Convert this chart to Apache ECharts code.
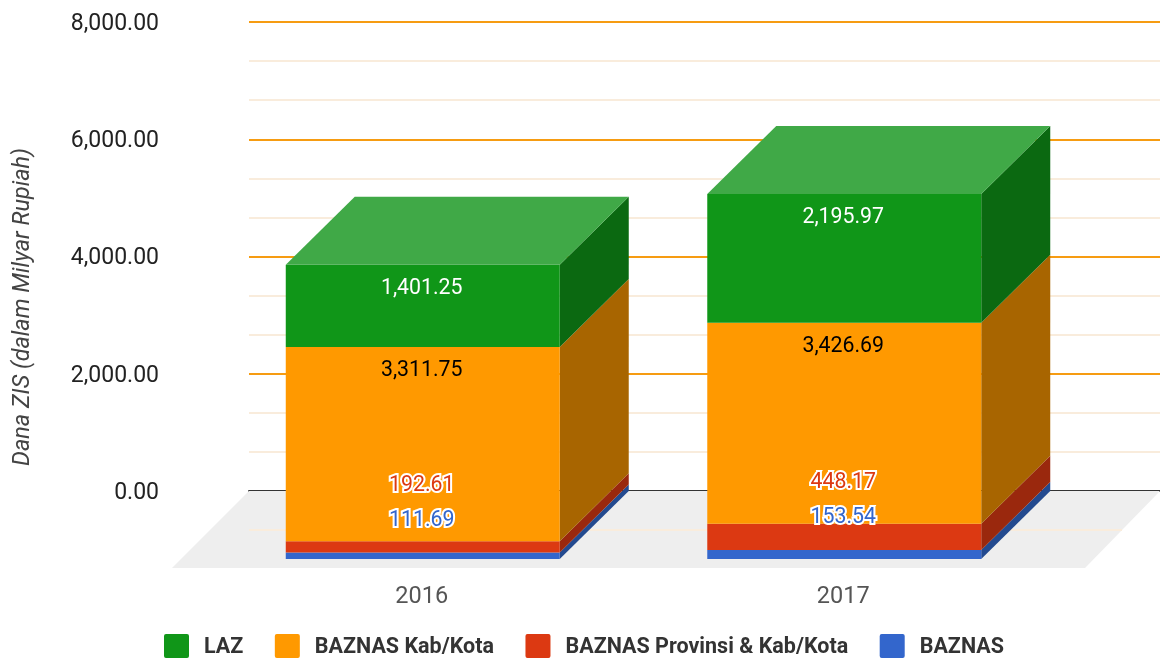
<!DOCTYPE html>
<html>
<head>
<meta charset="utf-8">
<style>html,body{margin:0;padding:0;background:#fff}#c{width:1160px;height:658px}</style>
<script src="https://cdn.jsdelivr.net/npm/echarts@6/dist/echarts.min.js"></script>
</head>
<body>
<div id="c"></div>
<script>
const categories = ['2016', '2017'];
const baznas = [111.69, 153.54];
const provinsi = [192.61, 448.17];
const kabKota = [3311.75, 3426.69];
const laz = [1401.25, 2195.97];
const axisTitle = 'Dana ZIS (dalam Milyar Rupiah)';
const font = 'Roboto, sans-serif';

const DX = 69, DY = 68, BOX = 0.65;
const fmt = v => v.toLocaleString('en-US', {minimumFractionDigits: 2, maximumFractionDigits: 2});

// bottom-to-top stacking order
const layers = [
  {name: 'BAZNAS', values: baznas, front: '#3366cc', side: '#234a8f', label: '#3366cc', halo: true, lift: [32, 32]},
  {name: 'BAZNAS Provinsi & Kab/Kota', values: provinsi, front: '#dc3912', side: '#9a280d', label: '#dc3912', halo: true, lift: [55, 41]},
  {name: 'BAZNAS Kab/Kota', values: kabKota, front: '#ff9900', side: '#a86500', label: '#000000'},
  {name: 'LAZ', values: laz, front: '#109618', side: '#0b6911', top: '#40a947', label: '#ffffff'}
];

function stacked(i) {
  return categories.map((c, k) => {
    let base = 0;
    for (let j = 0; j < i; j++) base += layers[j].values[k];
    return [k, base, base + layers[i].values[k], layers[i].values[k]];
  });
}

function poly(points, fill) {
  return {type: 'polygon', shape: {points}, style: {fill}, z2: 1};
}

function boxRenderer(layer) {
  return function (params, api) {
    const k = api.value(0);
    const lo = api.coord([k, api.value(1)]);
    const hi = api.coord([k, api.value(2)]);
    const w = api.size([1, 0])[0] * BOX;
    const l = lo[0] - w / 2, r = lo[0] + w / 2;
    const fb = lo[1] + DY, ft = hi[1] + DY;
    const children = [
      poly([[r, ft], [r + DX, hi[1]], [r + DX, lo[1]], [r, fb]], layer.side),
      poly([[l, ft], [r, ft], [r, fb], [l, fb]], layer.front)
    ];
    if (layer.top) {
      children.push(poly([[l, ft], [l + DX, hi[1]], [r + DX, hi[1]], [r, ft]], layer.top));
    }
    const ly = layer.lift ? ft - layer.lift[k] : ft + 23.5;
    children.push({
      type: 'text', z2: 100,
      style: Object.assign({
        x: lo[0] - 1, y: ly, text: fmt(api.value(3)),
        font: '21.3px ' + font, fill: layer.label,
        textAlign: 'center', textVerticalAlign: 'middle'
      }, layer.halo ? {stroke: '#ffffff', lineWidth: 4} : {})
    });
    return {type: 'group', children};
  };
}

const floorSeries = {
  type: 'custom', xAxisIndex: 0, yAxisIndex: 0, silent: true, z: 1, clip: false,
  data: [[0, 0]],
  encode: {x: 0, y: 1},
  renderItem(params, api) {
    const a = api.coord([0, 0]), b = api.coord([1, 0]);
    const g = api.coord([0, -666.67]);
    const h = 77;
    return {type: 'group', children: [
      {type: 'polygon', shape: {points: [a, b, [b[0] - 75, a[1] + h], [a[0] - 77, a[1] + h]]}, style: {fill: '#eeeeee'}},
      {type: 'line', shape: {x1: g[0], y1: g[1], x2: b[0] - 38, y2: g[1]}, style: {stroke: '#f9ecdc', lineWidth: 2}}
    ]};
  }
};

const chart = echarts.init(document.getElementById('c'), null, {renderer: 'canvas'});
chart.setOption({
  animation: false,
  backgroundColor: '#ffffff',
  textStyle: {fontFamily: font},
  grid: [
    {left: 249, width: 911, top: 22, height: 469},
    {left: 212, width: 843, top: 22, height: 469}
  ],
  xAxis: [
    {gridIndex: 0, type: 'value', min: 0, max: 1,
     axisLine: {show: true, lineStyle: {color: '#333333', width: 2}},
     axisTick: {show: false}, axisLabel: {show: false}, splitLine: {show: false}},
    {gridIndex: 1, type: 'category', data: categories, boundaryGap: true,
     axisLine: {show: false}, axisTick: {show: false},
     axisLabel: {margin: 94, color: '#555555', fontSize: 23.5, fontFamily: font, padding: [0, 2, 0, 0]}}
  ],
  yAxis: [
    {gridIndex: 0, type: 'value', min: 0, max: 8000, interval: 2000,
     axisLine: {show: false}, axisTick: {show: false},
     axisLabel: {margin: 90, color: '#222222', fontSize: 23, fontFamily: font, formatter: fmt, verticalAlign: 'top', lineHeight: 4},
     splitLine: {show: true, showMinLine: false, lineStyle: {color: '#f69c12', width: 2}},
     minorTick: {show: false, splitNumber: 3},
     minorSplitLine: {show: true, lineStyle: {color: '#f9ecdc', width: 2}}},
    {gridIndex: 1, type: 'value', min: 0, max: 8000, interval: 2000, show: false}
  ],
  legend: {
    left: 164, top: 634, padding: 0, itemWidth: 25, itemHeight: 28, itemGap: 31.5,
    icon: 'path://M2,0H23A2,2,0,0,1,25,2V22A2,2,0,0,1,23,24H2A2,2,0,0,1,0,22V2A2,2,0,0,1,2,0Z M0,28L0,28Z',
    selectedMode: false,
    data: ['LAZ', 'BAZNAS Kab/Kota', 'BAZNAS Provinsi & Kab/Kota', 'BAZNAS'],
    textStyle: {color: '#333333', fontSize: 21.5, fontWeight: 'bold', fontFamily: font, padding: [0, 0, 0, 10]}
  },
  graphic: [{
    type: 'text', rotation: Math.PI / 2, x: 23, y: 307, silent: true,
    style: {text: axisTitle, font: 'italic 23.4px ' + font, fill: '#444444', textAlign: 'center', textVerticalAlign: 'middle'}
  }],
  series: [floorSeries].concat(layers.map((layer, i) => ({
    name: layer.name, type: 'custom', xAxisIndex: 1, yAxisIndex: 1, clip: false, z: 2,
    itemStyle: {color: layer.front},
    data: stacked(i),
    encode: {x: 0, y: [1, 2]},
    renderItem: boxRenderer(layer)
  })))
});
</script>
</body>
</html>
